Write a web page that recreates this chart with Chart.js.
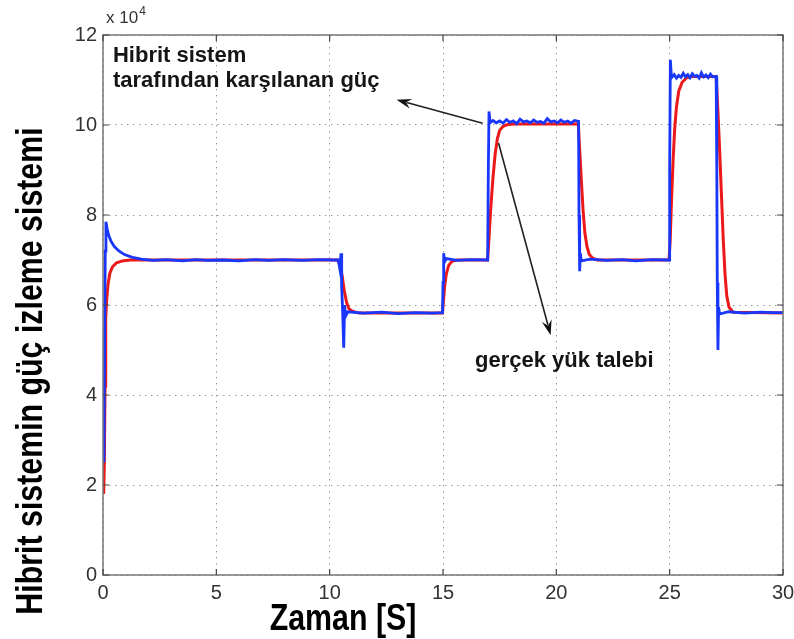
<!DOCTYPE html>
<html lang="tr">
<head>
    <meta charset="UTF-8" />
    <title>Hibrit sistemin güç izleme sistemi</title>
    <script src="https://cdn.jsdelivr.net/npm/chart.js"></script>
    <style>
        html, body { margin: 0; padding: 0; background: #fff; }
        .chart-box { position: relative; width: 794px; height: 639px; }
    </style>
</head>
<body>
    <div class="chart-box">
        <canvas id="powerChart"></canvas>
    </div>

    <script>
        // time axis [s]
        const xTicks = [0, 5, 10, 15, 20, 25, 30];
        const yTicks = [0, 20000, 40000, 60000, 80000, 100000, 120000];

        // gerçek yük talebi (red)
        const timeDemand = [0.03, 0.06, 0.09, 0.12, 0.16, 0.22, 0.3, 0.42, 0.6, 0.85,
            1.2, 3, 6, 9, 10.35, 10.45, 10.55, 10.65, 10.75, 10.85,
            11.0, 11.3, 13, 14.98, 15.02, 15.08, 15.15, 15.25, 15.4, 15.6,
            16.97, 17.02, 17.1, 17.2, 17.3, 17.4, 17.5, 17.65, 17.85, 18.2,
            20.97, 21.02, 21.1, 21.18, 21.26, 21.35, 21.45, 21.6, 21.8, 24.97,
            25.02, 25.08, 25.15, 25.22, 25.3, 25.4, 25.55, 25.75, 26.0, 27.05,
            27.12, 27.2, 27.28, 27.36, 27.44, 27.52, 27.62, 27.8, 30];
        const powerDemand = [18000, 25000, 42000, 57000, 61000, 64500, 67000, 68500, 69400, 69800,
            70000, 70000, 70000, 70000, 70000, 69000, 66500, 63000, 60500, 59200,
            58600, 58200, 58200, 58200, 61000, 64500, 67000, 68800, 69700, 70000,
            70000, 74000, 81000, 88000, 93500, 97000, 98800, 99700, 100100, 100200,
            100200, 95500, 88000, 81000, 76000, 73000, 71300, 70400, 70000, 70000,
            74000, 83000, 92000, 99000, 104000, 107500, 109500, 110500, 110800, 110800,
            104000, 95000, 85000, 75000, 67000, 62000, 59500, 58400, 58200];

        // hibrit sistem tarafından karşılanan güç (blue)
        const timeSupply = [0.04, 0.07, 0.1, 0.13, 0.18, 0.25, 0.35, 0.5, 0.7, 0.95,
            1.3, 1.7, 2.2, 2.8, 3.5, 4.1, 4.6, 5.3, 6.0, 6.7,
            7.3, 8.0, 8.8, 9.5, 10.2, 10.38, 10.45, 10.5, 10.53, 10.57,
            10.62, 10.66, 10.7, 10.8, 11.5, 12.3, 13.0, 13.8, 14.5, 14.98,
            15.0, 15.03, 15.07, 15.15, 15.6, 16.2, 16.97, 17.0, 17.03, 17.08,
            17.2, 17.35, 17.5, 17.65, 17.8, 17.95, 18.1, 18.25, 18.4, 18.55,
            18.7, 18.85, 19.0, 19.15, 19.3, 19.45, 19.6, 19.75, 19.9, 20.05,
            20.2, 20.35, 20.5, 20.65, 20.8, 20.98, 21.0, 21.03, 21.06, 21.1,
            21.5, 22.2, 22.9, 23.5, 24.2, 24.98, 25.0, 25.03, 25.08, 25.2,
            25.3, 25.4, 25.5, 25.6, 25.7, 25.8, 25.9, 26.0, 26.1, 26.2,
            26.3, 26.4, 26.5, 26.6, 26.7, 26.8, 26.9, 27.05, 27.08, 27.1,
            27.13, 27.16, 27.2, 27.6, 28.3, 29.0, 29.6, 30];
        const powerSupply = [25000, 50000, 72000, 78500, 77000, 75500, 74200, 73000, 72000, 71200,
            70600, 70200, 69900, 70100, 69800, 70100, 69900, 70000, 69800, 70100,
            69900, 70100, 69900, 70100, 70000, 70000, 68000, 71500, 64000, 59000,
            50500, 60000, 57500, 58500, 58200, 58400, 58100, 58300, 58200, 58300,
            65000, 71500, 69600, 70300, 69900, 70100, 70000, 90000, 103000, 100500,
            101000, 100500, 100900, 100400, 101200, 100600, 100900, 100300, 101300, 100700,
            100900, 100500, 101100, 100600, 100800, 100400, 101400, 100700, 100900, 100500,
            101100, 100600, 100900, 100400, 101000, 100800, 80000, 67500, 71500, 69800,
            70200, 69900, 70100, 69800, 70100, 70000, 90000, 114500, 110500, 111200,
            110400, 111000, 110600, 111500, 110700, 111200, 110500, 111400, 110800, 111000,
            110400, 111600, 110700, 111100, 110500, 111300, 110700, 110800, 90000, 65000,
            50000, 59500, 58000, 58500, 58200, 58400, 58300, 58300];

        // annotations, in data units
        const labelSupply = ['Hibrit sistem', 'tarafından karşılanan güç'];
        const labelSupplyAt = [[0.44, 114000], [0.44, 108400]];
        const labelDemand = 'gerçek yük talebi';
        const labelDemandAt = [16.41, 46200];
        const arrowSupply = [[16.75, 100400], [12.95, 105600]];
        const arrowDemand = [[17.45, 96000], [19.75, 53300]];

        const toPoints = (xs, ys) => xs.map((x, i) => ({ x: x, y: ys[i] }));

        function drawArrow(ctx, x1, y1, x2, y2) {
            const ang = Math.atan2(y2 - y1, x2 - x1);
            const len = 15, half = 5;
            ctx.beginPath();
            ctx.moveTo(x1, y1);
            ctx.lineTo(x2 - Math.cos(ang) * len * 0.7, y2 - Math.sin(ang) * len * 0.7);
            ctx.stroke();
            ctx.beginPath();
            ctx.moveTo(x2, y2);
            ctx.lineTo(x2 - Math.cos(ang) * len - Math.sin(ang) * half, y2 - Math.sin(ang) * len + Math.cos(ang) * half);
            ctx.lineTo(x2 - Math.cos(ang) * len * 0.65, y2 - Math.sin(ang) * len * 0.65);
            ctx.lineTo(x2 - Math.cos(ang) * len + Math.sin(ang) * half, y2 - Math.sin(ang) * len - Math.cos(ang) * half);
            ctx.closePath();
            ctx.fill();
        }

        // narrow bold title font is not installed, so squeeze Liberation Sans Bold
        function narrowText(ctx, text, x, y, rot) {
            ctx.save();
            ctx.translate(x, y);
            if (rot) ctx.rotate(rot);
            ctx.scale(0.82, 1);
            ctx.fillText(text, 0, 0);
            ctx.restore();
        }

        const matlabDecor = {
            id: 'matlabDecor',
            afterDatasetsDraw(chart) {
                const { ctx, chartArea: a, scales: { x, y } } = chart;
                ctx.save();

                // box + inward ticks
                ctx.strokeStyle = '#777';
                ctx.lineWidth = 1.5;
                ctx.strokeRect(a.left, a.top, a.right - a.left, a.bottom - a.top);
                ctx.strokeStyle = '#444';
                ctx.lineWidth = 1.2;
                ctx.beginPath();
                xTicks.forEach(v => {
                    const px = x.getPixelForValue(v);
                    ctx.moveTo(px, a.bottom); ctx.lineTo(px, a.bottom - 6);
                    ctx.moveTo(px, a.top); ctx.lineTo(px, a.top + 6);
                });
                yTicks.forEach(v => {
                    const py = y.getPixelForValue(v);
                    ctx.moveTo(a.left, py); ctx.lineTo(a.left + 6, py);
                    ctx.moveTo(a.right, py); ctx.lineTo(a.right - 6, py);
                });
                ctx.stroke();

                // exponent
                ctx.fillStyle = '#333';
                ctx.font = '17px "Liberation Sans", Arial, sans-serif';
                ctx.textBaseline = 'alphabetic';
                ctx.textAlign = 'left';
                ctx.fillText('x 10', a.left + 3, a.top - 12);
                const w = ctx.measureText('x 10').width;
                ctx.font = '12px "Liberation Sans", Arial, sans-serif';
                ctx.fillText('4', a.left + 4 + w, a.top - 20);

                // annotation texts
                ctx.fillStyle = '#151515';
                ctx.font = 'bold 22px "Liberation Sans", Arial, sans-serif';
                labelSupply.forEach((t, i) => {
                    ctx.fillText(t, x.getPixelForValue(labelSupplyAt[i][0]), y.getPixelForValue(labelSupplyAt[i][1]));
                });
                ctx.fillText(labelDemand, x.getPixelForValue(labelDemandAt[0]), y.getPixelForValue(labelDemandAt[1]));

                // arrows
                ctx.strokeStyle = '#222';
                ctx.fillStyle = '#111';
                ctx.lineWidth = 1.6;
                [arrowSupply, arrowDemand].forEach(ar => {
                    drawArrow(ctx,
                        x.getPixelForValue(ar[0][0]), y.getPixelForValue(ar[0][1]),
                        x.getPixelForValue(ar[1][0]), y.getPixelForValue(ar[1][1]));
                });

                // axis titles
                ctx.fillStyle = '#000';
                ctx.font = 'bold 37px "Liberation Sans", Arial, sans-serif';
                ctx.textAlign = 'center';
                narrowText(ctx, 'Zaman [S]', 343, 630, 0);
                narrowText(ctx, 'Hibrit sistemin güç izleme sistemi', 42, 371, -Math.PI / 2);

                ctx.restore();
            }
        };

        const ctx = document.getElementById('powerChart').getContext('2d');
        new Chart(ctx, {
            type: 'line',
            data: {
                datasets: [
                    {
                        label: 'Hibrit sistem tarafından karşılanan güç',
                        data: toPoints(timeSupply, powerSupply),
                        borderColor: 'rgb(25, 55, 250)',
                        borderWidth: 2.8,
                        pointRadius: 0,
                        tension: 0,
                        order: 0
                    },
                    {
                        label: 'gerçek yük talebi',
                        data: toPoints(timeDemand, powerDemand),
                        borderColor: 'rgb(235, 25, 25)',
                        borderWidth: 3,
                        pointRadius: 0,
                        tension: 0,
                        order: 1
                    }
                ]
            },
            options: {
                responsive: true,
                maintainAspectRatio: false,
                animation: false,
                layout: { padding: { top: 35, right: 11, left: 0, bottom: 0 } },
                plugins: { legend: { display: false }, tooltip: { enabled: false } },
                scales: {
                    x: {
                        type: 'linear',
                        min: 0, max: 30,
                        afterFit: s => { s.height = 64; s.paddingLeft = 0; s.paddingRight = 0; },
                        afterBuildTicks: s => { s.ticks = xTicks.map(v => ({ value: v })); },
                        grid: { color: '#9a9a9a', lineWidth: 1, drawTicks: false },
                        border: { display: false, dash: [1.5, 4.5] },
                        ticks: { padding: 6, color: '#333', font: { size: 20, family: '"Liberation Sans", Arial, sans-serif' } }
                    },
                    y: {
                        min: 0, max: 120000,
                        afterFit: s => { s.width = 103; s.paddingTop = 0; s.paddingBottom = 0; },
                        afterBuildTicks: s => { s.ticks = yTicks.map(v => ({ value: v })); },
                        grid: { color: '#9a9a9a', lineWidth: 1, drawTicks: false },
                        border: { display: false, dash: [1.5, 4.5] },
                        ticks: {
                            padding: 6, color: '#333',
                            font: { size: 20, family: '"Liberation Sans", Arial, sans-serif' },
                            callback: v => v / 10000
                        }
                    }
                }
            },
            plugins: [matlabDecor]
        });
    </script>
</body>
</html>
